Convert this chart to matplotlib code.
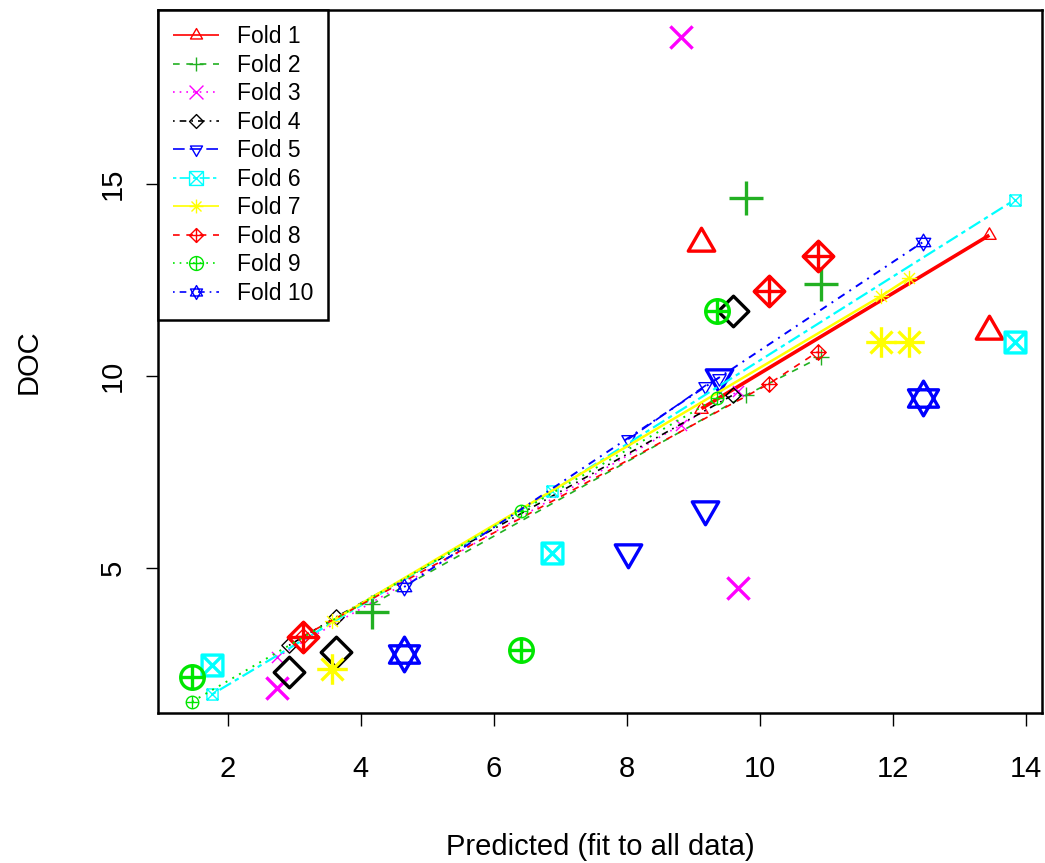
"""Cross-validation plot: observed DOC vs predicted (fit to all data), 10 folds."""

import matplotlib

matplotlib.use("Agg")
import matplotlib.pyplot as plt  # noqa: E402
from matplotlib.lines import Line2D  # noqa: E402
from matplotlib.path import Path  # noqa: E402

plt.rcParams["font.family"] = ["Liberation Sans", "DejaVu Sans"]

# --- data ---
fold_labels = [f"Fold {i}" for i in range(1, 11)]

# observed points (large symbols): x = predicted from full fit, y = DOC
obs_x = [
    [9.12, 13.45],
    [4.17, 9.79, 10.92],
    [2.74, 8.81, 9.67],
    [2.92, 3.63, 9.59],
    [8.02, 9.18, 9.38],
    [1.76, 6.88, 13.84],
    [3.57, 11.82, 12.24],
    [3.13, 10.13, 10.87],
    [1.46, 6.41, 9.35],
    [4.65, 12.45],
]
obs_y = [
    [13.46, 11.17],
    [3.85, 14.64, 12.40],
    [1.88, 18.83, 4.48],
    [2.29, 2.81, 11.69],
    [5.42, 6.54, 9.97],
    [2.47, 5.39, 10.89],
    [2.37, 10.89, 10.89],
    [3.20, 12.21, 13.13],
    [2.16, 2.86, 11.69],
    [2.76, 9.43],
]
# fold-model predictions (small symbols joined by lines)
cv_y = [
    [9.15, 13.67],
    [4.05, 9.50, 10.50],
    [2.68, 8.72, 9.60],
    [2.98, 3.72, 9.50],
    [8.35, 9.75, 9.95],
    [1.70, 7.00, 14.60],
    [3.62, 12.08, 12.55],
    [3.22, 9.79, 10.63],
    [1.51, 6.48, 9.42],
    [4.50, 13.49],
]

colors = ["#FF0000", "#22B022", "#FF00FF", "#000000", "#0000FF",
          "#00FFFF", "#FFFF00", "#FF0000", "#00E600", "#0000FF"]
dashes = [(0, ()), (0, (4, 4)), (0, (1, 3)), (0, (1, 3, 4, 3)), (0, (7, 3)),
          (0, (2, 2, 6, 2)), (0, ()), (0, (4, 4)), (0, (1, 3)), (0, (1, 3, 4, 3))]
line_w = [2.6, 1.2, 1.2, 1.2, 1.2, 1.6, 1.8, 1.2, 1.4, 1.4]


# --- R-like plotting symbols (pch 2..11) ---
def seg(*pts, closed=False):
    codes = [Path.MOVETO] + [Path.LINETO] * (len(pts) - 1)
    verts = list(pts)
    if closed:
        verts.append(pts[0])
        codes.append(Path.CLOSEPOLY)
    return Path(verts, codes)


def compound(*paths):
    return Path.make_compound_path(*paths)


s3 = 0.866
tri_up = seg((0, 1), (-s3, -0.5), (s3, -0.5), closed=True)
tri_dn = seg((0, -1), (-s3, 0.5), (s3, 0.5), closed=True)
plus = compound(seg((-1, 0), (1, 0)), seg((0, -1), (0, 1)))
cross = compound(seg((-1, -1), (1, 1)), seg((-1, 1), (1, -1)))
diamond = seg((0, 1), (1, 0), (0, -1), (-1, 0), closed=True)
square = seg((-1, -1), (1, -1), (1, 1), (-1, 1), closed=True)
d = 0.72
markers = [
    compound(tri_up, seg((0, -1), (0, -1.0001))),      # pch 2
    plus,                                              # pch 3
    cross,                                             # pch 4
    diamond,                                           # pch 5
    compound(tri_dn, seg((0, 1), (0, 1.0001))),        # pch 6
    compound(square, cross),                           # pch 7
    compound(plus, seg((-d, -d), (d, d)), seg((-d, d), (d, -d))),  # pch 8
    compound(diamond, plus),                           # pch 9
    compound(Path.unit_circle(), plus),                # pch 10
    compound(tri_up, tri_dn),                          # pch 11
]
big_ms = [22, 24, 16, 22, 22, 15, 22, 22, 17, 25]
small_ms = [11, 11, 8, 11, 11, 8, 11, 11, 9, 12]

fig = plt.figure(figsize=(10.45, 8.63), dpi=100)
ax = fig.add_axes([0.151, 0.174, 0.846, 0.814])

for i in range(10):
    ax.plot(obs_x[i], cv_y[i], color=colors[i], linestyle=dashes[i], lw=line_w[i],
            marker=markers[i], ms=small_ms[i], mfc="none", mew=1.0)
    ax.plot(obs_x[i], obs_y[i], linestyle="none", color=colors[i],
            marker=markers[i], ms=big_ms[i], mfc="none", mew=2.4)

ax.set_xlim(0.946, 14.24)
ax.set_ylim(1.22, 19.53)
ax.set_xticks([2, 4, 6, 8, 10, 12, 14])
ax.set_yticks([5, 10, 15])
ax.tick_params(length=9, width=1.0, labelsize=21)
ax.tick_params(axis="x", pad=21)
ax.tick_params(axis="y", pad=13)
for lbl in ax.get_yticklabels():
    lbl.set_rotation(90)
    lbl.set_va("center")
for sp in ax.spines.values():
    sp.set_linewidth(1.8)

ax.set_xlabel("Predicted (fit to all data)", fontsize=21, labelpad=36)
ax.set_ylabel("DOC", fontsize=21, labelpad=41)

handles = [Line2D([0], [0], color=colors[i], linestyle=dashes[i], lw=1.2,
                  marker=markers[i], ms=10, mfc="none", mew=1.0)
           for i in range(10)]
leg = ax.legend(handles, fold_labels, loc="upper left", bbox_to_anchor=(0, 1),
                borderaxespad=0, fontsize=16.5, handlelength=2.0, labelspacing=0.24,
                handletextpad=0.8, borderpad=0.65, fancybox=False, framealpha=1)
leg.get_frame().set_edgecolor("black")
leg.get_frame().set_linewidth(1.8)

fig.savefig("out.png", dpi=100)
